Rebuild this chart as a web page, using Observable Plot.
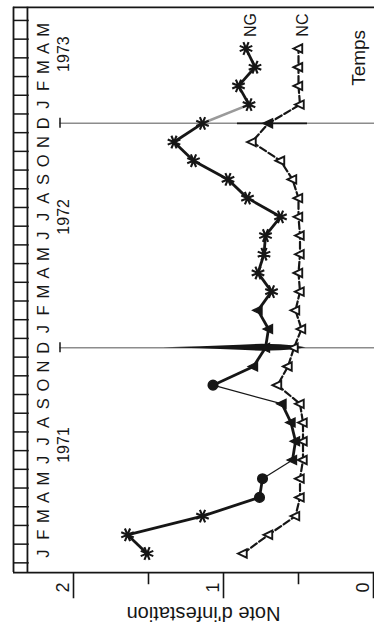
<!DOCTYPE html>
<html>
<head>
<meta charset="utf-8">
<script src="https://cdn.jsdelivr.net/npm/d3@7"></script>
<script src="https://cdn.jsdelivr.net/npm/@observablehq/plot@0.6"></script>
<style>
html, body { margin: 0; padding: 0; background: #fff; }
#chart { width: 374px; height: 626px; overflow: hidden; }
</style>
</head>
<body>
<div id="chart"></div>
<script>
// ---------- data ----------
// time axis: month index, 0 = January 1971 ... 28 = May 1973
const monthLetters = ["J","F","M","A","M","J","J","A","S","O","N","D",
                      "J","F","M","A","M","J","J","A","S","O","N","D",
                      "J","F","M","A","M"];
const yearLabels = ["1971", "1972", "1973"];
const yearLabelMonths = [5.8, 18, 26.7];
const decemberMonths = [11, 23];

// series months (Jan 1971 .. Apr 1973)
const seriesMonths = [0,1,2,3,4,5,6,7,8,9,10,11,12,13,14,15,16,17,18,19,20,21,22,23,24,25,26,27];
// NG : note d'infestation
const ngValues = [1.51,1.64,1.14,0.76,0.74,0.54,0.52,0.55,0.61,1.07,0.80,0.72,0.70,0.77,
                  0.68,0.77,0.73,0.72,0.62,0.84,0.97,1.20,1.33,1.14,0.83,0.90,0.79,0.85];
const ngMarkers = ["star","star","star","dot","dot","tri","tri","tri","tri","dot","tri","tri","tri","tri",
                   "star","star","star","star","star","star","star","star","star","star","star","star","star","star"];
// NC : note d'infestation
const ncValues = [0.87,0.70,0.52,0.49,0.49,0.47,0.47,0.47,0.49,0.64,0.57,0.53,0.48,0.52,
                  0.49,0.50,0.49,0.49,0.50,0.50,0.54,0.62,0.81,0.70,0.49,0.50,0.50,0.50];
const seriesNames = ["NG", "NC"];

// note axis
const noteTicks = [0, 1, 2];
const noteTickLabels = ["0", "1", "2"];
const noteMinorTicks = [0.5, 1.5];
const noteTitle = "Note d'infestation";
const timeTitle = "Temps";

// dark print artefact on the December 1971 line (note, half-thickness in months)
const wedgeNotes = [1.40, 1.15, 0.89, 0.74, 0.62, 0.52, 0.45];
const wedgeHalf  = [0.00, 0.05, 0.13, 0.19, 0.16, 0.10, 0.00];

// ---------- style / layout config ----------
const ink = "#161616";
const grey = "#8c8c8c";
const frameBottom = -1.02, frameTop = 29.2;      // in months
const frameLeft = 2.40, bandRight = 2.307;        // in note units
const monthLetterNote = 2.20, yearNote = 2.067, decTickNote = 2.09;
const ngThinSegments = [4, 8];
const ngFadedSegments = [23];

const starSymbol = {
  draw(ctx, size) {
    const r = Math.sqrt(size / Math.PI);
    for (let k = 0; k < 4; k++) {
      const a = k * Math.PI / 4 + Math.PI / 8;
      ctx.moveTo(r * Math.cos(a), r * Math.sin(a));
      ctx.lineTo(-r * Math.cos(a), -r * Math.sin(a));
    }
  }
};
const leftTriangle = {
  draw(ctx, size) {
    const r = Math.sqrt(size / Math.PI);
    ctx.moveTo(-r * 1.15, 0);
    ctx.lineTo(r * 0.85, -r * 0.95);
    ctx.lineTo(r * 0.85, r * 0.95);
    ctx.closePath();
  }
};

// ---------- derived tables ----------
const ng = seriesMonths.map((m, i) => ({m, v: ngValues[i], marker: ngMarkers[i]}));
const nc = seriesMonths.map((m, i) => ({m, v: ncValues[i]}));
const ngSeg = ng.slice(1).map((d, k) => ({
  k, x1: ng[k].v, y1: ng[k].m, x2: d.v, y2: d.m
}));
const monthBoundaries = monthLetters.map((_, i) => i - 0.5).concat([monthLetters.length - 0.5]);
const wedge = wedgeNotes.map((n, i) => ({n, y1: decemberMonths[0] - wedgeHalf[i], y2: decemberMonths[0] + wedgeHalf[i]}));

const font = "'Liberation Sans', Arial, Helvetica, sans-serif";

const chart = Plot.plot({
  width: 374,
  height: 626,
  style: {background: "#fff", fontFamily: font, overflow: "visible"},
  x: {domain: [0, 2], range: [373, 73], axis: null},
  y: {domain: [0, 27], range: [553, 48], axis: null},
  marks: [
    // frame
    Plot.ruleY([frameTop], {x1: frameLeft, x2: -0.02, stroke: ink, strokeWidth: 1.6}),
    Plot.ruleY([frameBottom], {x1: frameLeft, x2: -0.02, stroke: ink, strokeWidth: 1.8}),
    Plot.ruleX([frameLeft, bandRight], {y1: frameBottom, y2: frameTop, stroke: ink, strokeWidth: 1.8}),
    Plot.ruleY(monthBoundaries, {x1: frameLeft, x2: bandRight - 0.012, stroke: ink, strokeWidth: 1.5}),
    // note axis ticks
    Plot.ruleX(noteTicks, {y1: frameBottom, y2: frameBottom - 1.4, stroke: ink, strokeWidth: 1.6}),
    Plot.ruleX(noteMinorTicks, {y1: frameBottom, y2: frameBottom - 0.65, stroke: ink, strokeWidth: 1.6}),
    Plot.text(noteTicks, {x: d => d, y: frameBottom - 0.8, text: (d, i) => noteTickLabels[i],
      rotate: -90, dx: -10, fontSize: 18, fill: ink}),
    Plot.text([noteTitle], {x: 1.133, y: -3.2, text: d => d, rotate: 180, fontSize: 20, fill: ink}),
    // month letters & years
    Plot.text(monthLetters, {x: monthLetterNote, y: (d, i) => i, text: d => d,
      rotate: -90, fontSize: 16.5, fill: ink}),
    Plot.text(yearLabels, {x: yearNote, y: (d, i) => yearLabelMonths[i], text: d => d,
      rotate: -90, fontSize: 16, fill: ink}),
    // December lines
    Plot.ruleY(decemberMonths, {x1: decTickNote, x2: -0.02, stroke: grey, strokeWidth: 1.6}),
    Plot.ruleX(decemberMonths, {x: decTickNote, y1: d => d - 0.27, y2: d => d + 0.27, stroke: ink, strokeWidth: 1.5}),
    Plot.ruleY([decemberMonths[1]], {x1: 0.907, x2: 0.44, stroke: ink, strokeWidth: 1.8}),
    Plot.areaY(wedge, {x: "n", y1: "y1", y2: "y2", fill: ink}),
    // NC line
    Plot.line(nc, {x: "v", y: "m", stroke: ink, strokeWidth: 2.2, strokeDasharray: "7,3"}),
    // NG line segments
    Plot.link(ngSeg, {filter: d => !ngThinSegments.includes(d.k) && !ngFadedSegments.includes(d.k),
      x1: "x1", y1: "y1", x2: "x2", y2: "y2", stroke: ink, strokeWidth: 2.8}),
    Plot.link(ngSeg, {filter: d => ngThinSegments.includes(d.k),
      x1: "x1", y1: "y1", x2: "x2", y2: "y2", stroke: ink, strokeWidth: 1.2}),
    Plot.link(ngSeg, {filter: d => ngFadedSegments.includes(d.k),
      x1: "x1", y1: "y1", x2: "x2", y2: "y2", stroke: "#9a9a9a", strokeWidth: 2.6}),
    // NC markers
    Plot.dot(nc, {x: "v", y: "m", symbol: leftTriangle, r: 4.4, fill: (d, i) => i === 23 ? ink : "#fff",
      stroke: ink, strokeWidth: 1.9}),
    // NG markers
    Plot.dot(ng, {filter: d => d.marker === "star", x: "v", y: "m", r: 2.3, fill: ink}),
    Plot.dot(ng, {filter: d => d.marker === "star", x: "v", y: "m", symbol: starSymbol, r: 6.8,
      fill: "none", stroke: ink, strokeWidth: 2.1}),
    Plot.dot(ng, {filter: d => d.marker === "dot", x: "v", y: "m", r: 4.8, fill: ink, stroke: ink}),
    Plot.dot(ng, {filter: d => d.marker === "tri", x: "v", y: "m", symbol: leftTriangle, r: 4.8,
      fill: ink, stroke: ink, strokeWidth: 1.2}),
    // series labels & time title
    Plot.text(seriesNames, {x: (d, i) => [0.82, 0.473][i], y: 28.25, text: d => d,
      rotate: -90, fontSize: 16, fill: ink}),
    Plot.text([timeTitle], {x: 0.095, y: 26.5, text: d => d, rotate: -90, fontSize: 19, fill: ink})
  ]
});
document.getElementById("chart").appendChild(chart);
</script>
</body>
</html>
